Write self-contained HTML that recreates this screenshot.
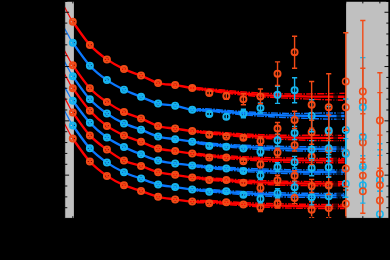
<!DOCTYPE html>
<html><head><meta charset="utf-8"><title>chart</title>
<style>html,body{margin:0;padding:0;background:#000;width:390px;height:260px;overflow:hidden;font-family:"Liberation Sans",sans-serif;}</style>
</head><body>
<svg width="390" height="260" viewBox="0 0 390 260" style="position:absolute;left:0;top:0">
<defs><clipPath id="c"><rect x="64.7" y="1.2" width="324.2" height="217.2"/></clipPath></defs>
<defs><clipPath id="cl"><rect x="64.7" y="1.2" width="8.1" height="217.2"/></clipPath><clipPath id="cr"><rect x="72.8" y="1.2" width="316.1" height="217.2"/></clipPath></defs>
<rect x="0" y="0" width="390" height="260" fill="#000"/>
<rect x="64.7" y="1.2" width="9.2" height="217.2" fill="#c0c0c0"/>
<rect x="346.1" y="1.2" width="42.8" height="217.2" fill="#c0c0c0"/>
<g clip-path="url(#c)">
<path d="M64.27 6.45 C64.98 7.78 67.11 11.89 68.53 14.43 C69.96 16.97 69.25 16.62 72.80 21.70 C76.35 26.78 84.17 38.62 89.86 44.90 C95.55 51.18 101.23 55.37 106.92 59.40 C112.61 63.43 118.29 66.40 123.98 69.10 C129.67 71.80 135.35 73.27 141.04 75.60 C146.73 77.93 152.41 81.52 158.10 83.10 C163.79 84.68 169.47 84.28 175.16 85.10 C180.85 85.92 186.53 87.20 192.22 88.00 C197.91 88.80 203.59 89.26 209.28 89.89 C214.97 90.51 220.65 91.17 226.34 91.77 C232.03 92.37 237.71 93.00 243.40 93.51 C249.09 94.02 254.77 94.45 260.46 94.81 C266.15 95.18 271.83 95.44 277.52 95.69 C283.21 95.93 288.89 96.12 294.58 96.27 C300.27 96.41 305.95 96.48 311.64 96.56 C317.33 96.63 323.21 96.68 328.70 96.70 C334.19 96.72 341.92 96.70 344.57 96.70" fill="none" stroke="#ff0000" stroke-width="1.2" clip-path="url(#cl)"/>
<path d="M64.27 6.45 C64.98 7.78 67.11 11.89 68.53 14.43 C69.96 16.97 69.25 16.62 72.80 21.70 C76.35 26.78 84.17 38.62 89.86 44.90 C95.55 51.18 101.23 55.37 106.92 59.40 C112.61 63.43 118.29 66.40 123.98 69.10 C129.67 71.80 135.35 73.27 141.04 75.60 C146.73 77.93 152.41 81.52 158.10 83.10 C163.79 84.68 169.47 84.28 175.16 85.10 C180.85 85.92 186.53 87.20 192.22 88.00 C197.91 88.80 203.59 89.26 209.28 89.89 C214.97 90.51 220.65 91.17 226.34 91.77 C232.03 92.37 237.71 93.00 243.40 93.51 C249.09 94.02 254.77 94.45 260.46 94.81 C266.15 95.18 271.83 95.44 277.52 95.69 C283.21 95.93 288.89 96.12 294.58 96.27 C300.27 96.41 305.95 96.48 311.64 96.56 C317.33 96.63 323.21 96.68 328.70 96.70 C334.19 96.72 341.92 96.70 344.57 96.70" fill="none" stroke="#ff0000" stroke-width="2.35" clip-path="url(#cr)"/>
<path d="M196.48 87.42 C198.62 87.63 204.30 88.19 209.28 88.69 C214.26 89.18 220.65 89.83 226.34 90.37 C232.03 90.91 237.71 91.47 243.40 91.91 C249.09 92.35 254.77 92.72 260.46 93.02 C266.15 93.31 271.83 93.51 277.52 93.69 C283.21 93.86 288.89 94.03 294.58 94.06 C300.27 94.10 305.95 93.98 311.64 93.91 C317.33 93.83 323.21 93.72 328.70 93.60 C334.19 93.48 341.92 93.27 344.57 93.20" fill="none" stroke="#ff0000" stroke-width="1.4" stroke-dasharray="7 1.2 1.6 1.2" stroke-dashoffset="0.0"/>
<path d="M196.48 89.52 C198.62 89.78 204.30 90.48 209.28 91.09 C214.26 91.69 220.65 92.50 226.34 93.17 C232.03 93.84 237.71 94.54 243.40 95.11 C249.09 95.68 254.77 96.19 260.46 96.61 C266.15 97.04 271.83 97.38 277.52 97.69 C283.21 97.99 288.89 98.21 294.58 98.47 C300.27 98.72 305.95 98.98 311.64 99.21 C317.33 99.43 323.21 99.63 328.70 99.80 C334.19 99.97 341.92 100.17 344.57 100.25" fill="none" stroke="#ff0000" stroke-width="1.4" stroke-dasharray="7 1.2 1.6 1.2" stroke-dashoffset="3.0"/>
<path d="M64.27 27.70 C64.98 29.01 67.11 33.08 68.53 35.60 C69.96 38.12 69.25 37.78 72.80 42.80 C76.35 47.82 84.17 59.48 89.86 65.70 C95.55 71.92 101.23 76.10 106.92 80.10 C112.61 84.10 118.29 86.92 123.98 89.70 C129.67 92.48 135.35 94.48 141.04 96.80 C146.73 99.12 152.41 102.12 158.10 103.60 C163.79 105.08 169.47 104.67 175.16 105.70 C180.85 106.73 186.53 109.06 192.22 109.80 C197.91 110.54 203.59 109.80 209.28 110.12 C214.97 110.45 220.65 111.23 226.34 111.75 C232.03 112.27 237.71 112.81 243.40 113.25 C249.09 113.69 254.77 114.06 260.46 114.38 C266.15 114.69 271.83 114.92 277.52 115.12 C283.21 115.33 288.89 115.50 294.58 115.62 C300.27 115.75 305.95 115.81 311.64 115.88 C317.33 115.94 323.21 115.98 328.70 116.00 C334.19 116.02 341.92 116.00 344.57 116.00" fill="none" stroke="#0a78ff" stroke-width="1.2" clip-path="url(#cl)"/>
<path d="M64.27 27.70 C64.98 29.01 67.11 33.08 68.53 35.60 C69.96 38.12 69.25 37.78 72.80 42.80 C76.35 47.82 84.17 59.48 89.86 65.70 C95.55 71.92 101.23 76.10 106.92 80.10 C112.61 84.10 118.29 86.92 123.98 89.70 C129.67 92.48 135.35 94.48 141.04 96.80 C146.73 99.12 152.41 102.12 158.10 103.60 C163.79 105.08 169.47 104.67 175.16 105.70 C180.85 106.73 186.53 109.06 192.22 109.80 C197.91 110.54 203.59 109.80 209.28 110.12 C214.97 110.45 220.65 111.23 226.34 111.75 C232.03 112.27 237.71 112.81 243.40 113.25 C249.09 113.69 254.77 114.06 260.46 114.38 C266.15 114.69 271.83 114.92 277.52 115.12 C283.21 115.33 288.89 115.50 294.58 115.62 C300.27 115.75 305.95 115.81 311.64 115.88 C317.33 115.94 323.21 115.98 328.70 116.00 C334.19 116.02 341.92 116.00 344.57 116.00" fill="none" stroke="#0a78ff" stroke-width="2.35" clip-path="url(#cr)"/>
<path d="M196.48 108.83 C198.62 108.85 204.30 108.67 209.28 108.92 C214.26 109.18 220.65 109.90 226.34 110.35 C232.03 110.80 237.71 111.28 243.40 111.65 C249.09 112.02 254.77 112.33 260.46 112.58 C266.15 112.82 271.83 112.98 277.52 113.12 C283.21 113.27 288.89 113.41 294.58 113.42 C300.27 113.44 305.95 113.30 311.64 113.22 C317.33 113.15 323.21 113.00 328.70 112.95 C334.19 112.90 341.92 112.95 344.57 112.95" fill="none" stroke="#0a78ff" stroke-width="1.4" stroke-dasharray="7 1.2 1.6 1.2" stroke-dashoffset="2.3"/>
<path d="M196.48 110.93 C198.62 111.00 204.30 110.96 209.28 111.33 C214.26 111.69 220.65 112.56 226.34 113.15 C232.03 113.74 237.71 114.35 243.40 114.85 C249.09 115.35 254.77 115.80 260.46 116.17 C266.15 116.55 271.83 116.85 277.52 117.12 C283.21 117.40 288.89 117.59 294.58 117.83 C300.27 118.06 305.95 118.31 311.64 118.53 C317.33 118.74 323.21 118.99 328.70 119.10 C334.19 119.21 341.92 119.18 344.57 119.20" fill="none" stroke="#0a78ff" stroke-width="1.4" stroke-dasharray="7 1.2 1.6 1.2" stroke-dashoffset="5.3"/>
<path d="M64.27 50.15 C64.98 51.48 67.11 55.56 68.53 58.09 C69.96 60.61 69.25 60.28 72.80 65.30 C76.35 70.32 84.17 82.07 89.86 88.20 C95.55 94.33 101.23 98.12 106.92 102.10 C112.61 106.08 118.29 109.38 123.98 112.10 C129.67 114.82 135.35 116.07 141.04 118.40 C146.73 120.73 152.41 124.40 158.10 126.10 C163.79 127.80 169.47 127.77 175.16 128.60 C180.85 129.43 186.53 130.41 192.22 131.10 C197.91 131.79 203.59 132.22 209.28 132.73 C214.97 133.24 220.65 133.70 226.34 134.16 C232.03 134.62 237.71 135.10 243.40 135.48 C249.09 135.87 254.77 136.19 260.46 136.47 C266.15 136.75 271.83 136.95 277.52 137.13 C283.21 137.31 288.89 137.46 294.58 137.57 C300.27 137.68 305.95 137.73 311.64 137.79 C317.33 137.84 323.21 137.88 328.70 137.90 C334.19 137.92 341.92 137.90 344.57 137.90" fill="none" stroke="#ff0000" stroke-width="1.2" clip-path="url(#cl)"/>
<path d="M64.27 50.15 C64.98 51.48 67.11 55.56 68.53 58.09 C69.96 60.61 69.25 60.28 72.80 65.30 C76.35 70.32 84.17 82.07 89.86 88.20 C95.55 94.33 101.23 98.12 106.92 102.10 C112.61 106.08 118.29 109.38 123.98 112.10 C129.67 114.82 135.35 116.07 141.04 118.40 C146.73 120.73 152.41 124.40 158.10 126.10 C163.79 127.80 169.47 127.77 175.16 128.60 C180.85 129.43 186.53 130.41 192.22 131.10 C197.91 131.79 203.59 132.22 209.28 132.73 C214.97 133.24 220.65 133.70 226.34 134.16 C232.03 134.62 237.71 135.10 243.40 135.48 C249.09 135.87 254.77 136.19 260.46 136.47 C266.15 136.75 271.83 136.95 277.52 137.13 C283.21 137.31 288.89 137.46 294.58 137.57 C300.27 137.68 305.95 137.73 311.64 137.79 C317.33 137.84 323.21 137.88 328.70 137.90 C334.19 137.92 341.92 137.90 344.57 137.90" fill="none" stroke="#ff0000" stroke-width="2.35" clip-path="url(#cr)"/>
<path d="M196.48 130.46 C198.62 130.64 204.30 131.15 209.28 131.53 C214.26 131.91 220.65 132.37 226.34 132.76 C232.03 133.15 237.71 133.56 243.40 133.88 C249.09 134.20 254.77 134.46 260.46 134.67 C266.15 134.88 271.83 135.01 277.52 135.13 C283.21 135.25 288.89 135.35 294.58 135.37 C300.27 135.39 305.95 135.24 311.64 135.24 C317.33 135.24 323.21 135.33 328.70 135.35 C334.19 135.37 341.92 135.35 344.57 135.35" fill="none" stroke="#ff0000" stroke-width="1.4" stroke-dasharray="7 1.2 1.6 1.2" stroke-dashoffset="4.6"/>
<path d="M196.48 132.56 C198.62 132.79 204.30 133.43 209.28 133.93 C214.26 134.43 220.65 135.03 226.34 135.56 C232.03 136.09 237.71 136.63 243.40 137.08 C249.09 137.53 254.77 137.93 260.46 138.27 C266.15 138.61 271.83 138.88 277.52 139.13 C283.21 139.38 288.89 139.55 294.58 139.77 C300.27 139.99 305.95 140.30 311.64 140.44 C317.33 140.58 323.21 140.57 328.70 140.60 C334.19 140.63 341.92 140.60 344.57 140.60" fill="none" stroke="#ff0000" stroke-width="1.4" stroke-dasharray="7 1.2 1.6 1.2" stroke-dashoffset="7.6"/>
<path d="M64.27 61.07 C64.98 62.40 67.11 66.51 68.53 69.05 C69.96 71.59 69.25 71.26 72.80 76.30 C76.35 81.34 84.17 93.08 89.86 99.30 C95.55 105.52 101.23 109.58 106.92 113.60 C112.61 117.62 118.29 120.72 123.98 123.40 C129.67 126.08 135.35 127.50 141.04 129.70 C146.73 131.90 152.41 135.02 158.10 136.60 C163.79 138.18 169.47 138.35 175.16 139.20 C180.85 140.05 186.53 140.85 192.22 141.70 C197.91 142.55 203.59 143.65 209.28 144.30 C214.97 144.95 220.65 145.18 226.34 145.60 C232.03 146.02 237.71 146.45 243.40 146.80 C249.09 147.15 254.77 147.45 260.46 147.70 C266.15 147.95 271.83 148.13 277.52 148.30 C283.21 148.47 288.89 148.60 294.58 148.70 C300.27 148.80 305.95 148.85 311.64 148.90 C317.33 148.95 323.21 148.98 328.70 149.00 C334.19 149.02 341.92 149.00 344.57 149.00" fill="none" stroke="#0a78ff" stroke-width="1.2" clip-path="url(#cl)"/>
<path d="M64.27 61.07 C64.98 62.40 67.11 66.51 68.53 69.05 C69.96 71.59 69.25 71.26 72.80 76.30 C76.35 81.34 84.17 93.08 89.86 99.30 C95.55 105.52 101.23 109.58 106.92 113.60 C112.61 117.62 118.29 120.72 123.98 123.40 C129.67 126.08 135.35 127.50 141.04 129.70 C146.73 131.90 152.41 135.02 158.10 136.60 C163.79 138.18 169.47 138.35 175.16 139.20 C180.85 140.05 186.53 140.85 192.22 141.70 C197.91 142.55 203.59 143.65 209.28 144.30 C214.97 144.95 220.65 145.18 226.34 145.60 C232.03 146.02 237.71 146.45 243.40 146.80 C249.09 147.15 254.77 147.45 260.46 147.70 C266.15 147.95 271.83 148.13 277.52 148.30 C283.21 148.47 288.89 148.60 294.58 148.70 C300.27 148.80 305.95 148.85 311.64 148.90 C317.33 148.95 323.21 148.98 328.70 149.00 C334.19 149.02 341.92 149.00 344.57 149.00" fill="none" stroke="#0a78ff" stroke-width="2.35" clip-path="url(#cr)"/>
<path d="M196.48 141.30 C198.62 141.60 204.30 142.62 209.28 143.10 C214.26 143.58 220.65 143.85 226.34 144.20 C232.03 144.55 237.71 144.92 243.40 145.20 C249.09 145.48 254.77 145.72 260.46 145.90 C266.15 146.08 271.83 146.18 277.52 146.30 C283.21 146.43 288.89 146.56 294.58 146.65 C300.27 146.74 305.95 146.80 311.64 146.85 C317.33 146.90 323.21 146.93 328.70 146.95 C334.19 146.97 341.92 146.95 344.57 146.95" fill="none" stroke="#0a78ff" stroke-width="1.4" stroke-dasharray="7 1.2 1.6 1.2" stroke-dashoffset="6.9"/>
<path d="M196.48 143.40 C198.62 143.75 204.30 144.90 209.28 145.50 C214.26 146.10 220.65 146.52 226.34 147.00 C232.03 147.48 237.71 147.98 243.40 148.40 C249.09 148.82 254.77 149.18 260.46 149.50 C266.15 149.82 271.83 150.07 277.52 150.30 C283.21 150.53 288.89 150.77 294.58 150.90 C300.27 151.03 305.95 151.05 311.64 151.10 C317.33 151.15 323.21 151.18 328.70 151.20 C334.19 151.22 341.92 151.20 344.57 151.20" fill="none" stroke="#0a78ff" stroke-width="1.4" stroke-dasharray="7 1.2 1.6 1.2" stroke-dashoffset="9.9"/>
<path d="M64.27 73.39 C64.98 74.68 67.11 78.67 68.53 81.14 C69.96 83.61 69.25 83.27 72.80 88.20 C76.35 93.13 84.17 104.42 89.86 110.70 C95.55 116.98 101.23 121.78 106.92 125.90 C112.61 130.02 118.29 132.75 123.98 135.40 C129.67 138.05 135.35 139.62 141.04 141.80 C146.73 143.98 152.41 146.95 158.10 148.50 C163.79 150.05 169.47 150.25 175.16 151.10 C180.85 151.95 186.53 152.82 192.22 153.60 C197.91 154.38 203.59 155.22 209.28 155.80 C214.97 156.38 220.65 156.68 226.34 157.10 C232.03 157.52 237.71 157.95 243.40 158.30 C249.09 158.65 254.77 158.95 260.46 159.20 C266.15 159.45 271.83 159.63 277.52 159.80 C283.21 159.97 288.89 160.10 294.58 160.20 C300.27 160.30 305.95 160.35 311.64 160.40 C317.33 160.45 323.21 160.48 328.70 160.50 C334.19 160.52 341.92 160.50 344.57 160.50" fill="none" stroke="#ff0000" stroke-width="1.2" clip-path="url(#cl)"/>
<path d="M64.27 73.39 C64.98 74.68 67.11 78.67 68.53 81.14 C69.96 83.61 69.25 83.27 72.80 88.20 C76.35 93.13 84.17 104.42 89.86 110.70 C95.55 116.98 101.23 121.78 106.92 125.90 C112.61 130.02 118.29 132.75 123.98 135.40 C129.67 138.05 135.35 139.62 141.04 141.80 C146.73 143.98 152.41 146.95 158.10 148.50 C163.79 150.05 169.47 150.25 175.16 151.10 C180.85 151.95 186.53 152.82 192.22 153.60 C197.91 154.38 203.59 155.22 209.28 155.80 C214.97 156.38 220.65 156.68 226.34 157.10 C232.03 157.52 237.71 157.95 243.40 158.30 C249.09 158.65 254.77 158.95 260.46 159.20 C266.15 159.45 271.83 159.63 277.52 159.80 C283.21 159.97 288.89 160.10 294.58 160.20 C300.27 160.30 305.95 160.35 311.64 160.40 C317.33 160.45 323.21 160.48 328.70 160.50 C334.19 160.52 341.92 160.50 344.57 160.50" fill="none" stroke="#ff0000" stroke-width="2.35" clip-path="url(#cr)"/>
<path d="M196.48 153.10 C198.62 153.35 204.30 154.17 209.28 154.60 C214.26 155.03 220.65 155.35 226.34 155.70 C232.03 156.05 237.71 156.42 243.40 156.70 C249.09 156.98 254.77 157.22 260.46 157.40 C266.15 157.58 271.83 157.68 277.52 157.80 C283.21 157.93 288.89 158.06 294.58 158.15 C300.27 158.24 305.95 158.30 311.64 158.35 C317.33 158.40 323.21 158.43 328.70 158.45 C334.19 158.47 341.92 158.45 344.57 158.45" fill="none" stroke="#ff0000" stroke-width="1.4" stroke-dasharray="7 1.2 1.6 1.2" stroke-dashoffset="9.2"/>
<path d="M196.48 155.20 C198.62 155.50 204.30 156.45 209.28 157.00 C214.26 157.55 220.65 158.02 226.34 158.50 C232.03 158.98 237.71 159.48 243.40 159.90 C249.09 160.32 254.77 160.68 260.46 161.00 C266.15 161.32 271.83 161.57 277.52 161.80 C283.21 162.03 288.89 162.27 294.58 162.40 C300.27 162.53 305.95 162.55 311.64 162.60 C317.33 162.65 323.21 162.68 328.70 162.70 C334.19 162.72 341.92 162.70 344.57 162.70" fill="none" stroke="#ff0000" stroke-width="1.4" stroke-dasharray="7 1.2 1.6 1.2" stroke-dashoffset="12.2"/>
<path d="M64.27 86.43 C64.98 87.69 67.11 91.55 68.53 93.95 C69.96 96.34 69.25 96.01 72.80 100.80 C76.35 105.59 84.17 116.58 89.86 122.70 C95.55 128.82 101.23 133.43 106.92 137.50 C112.61 141.57 118.29 144.30 123.98 147.10 C129.67 149.90 135.35 152.05 141.04 154.30 C146.73 156.55 152.41 159.08 158.10 160.60 C163.79 162.12 169.47 162.58 175.16 163.40 C180.85 164.22 186.53 164.85 192.22 165.50 C197.91 166.15 203.59 166.78 209.28 167.30 C214.97 167.82 220.65 168.18 226.34 168.60 C232.03 169.02 237.71 169.45 243.40 169.80 C249.09 170.15 254.77 170.45 260.46 170.70 C266.15 170.95 271.83 171.13 277.52 171.30 C283.21 171.47 288.89 171.60 294.58 171.70 C300.27 171.80 305.95 171.85 311.64 171.90 C317.33 171.95 323.21 171.98 328.70 172.00 C334.19 172.02 341.92 172.00 344.57 172.00" fill="none" stroke="#0a78ff" stroke-width="1.2" clip-path="url(#cl)"/>
<path d="M64.27 86.43 C64.98 87.69 67.11 91.55 68.53 93.95 C69.96 96.34 69.25 96.01 72.80 100.80 C76.35 105.59 84.17 116.58 89.86 122.70 C95.55 128.82 101.23 133.43 106.92 137.50 C112.61 141.57 118.29 144.30 123.98 147.10 C129.67 149.90 135.35 152.05 141.04 154.30 C146.73 156.55 152.41 159.08 158.10 160.60 C163.79 162.12 169.47 162.58 175.16 163.40 C180.85 164.22 186.53 164.85 192.22 165.50 C197.91 166.15 203.59 166.78 209.28 167.30 C214.97 167.82 220.65 168.18 226.34 168.60 C232.03 169.02 237.71 169.45 243.40 169.80 C249.09 170.15 254.77 170.45 260.46 170.70 C266.15 170.95 271.83 171.13 277.52 171.30 C283.21 171.47 288.89 171.60 294.58 171.70 C300.27 171.80 305.95 171.85 311.64 171.90 C317.33 171.95 323.21 171.98 328.70 172.00 C334.19 172.02 341.92 172.00 344.57 172.00" fill="none" stroke="#0a78ff" stroke-width="2.35" clip-path="url(#cr)"/>
<path d="M196.48 164.90 C198.62 165.10 204.30 165.72 209.28 166.10 C214.26 166.48 220.65 166.85 226.34 167.20 C232.03 167.55 237.71 167.92 243.40 168.20 C249.09 168.48 254.77 168.71 260.46 168.90 C266.15 169.09 271.83 169.21 277.52 169.35 C283.21 169.49 288.89 169.65 294.58 169.75 C300.27 169.85 305.95 169.90 311.64 169.95 C317.33 170.00 323.21 170.03 328.70 170.05 C334.19 170.07 341.92 170.05 344.57 170.05" fill="none" stroke="#0a78ff" stroke-width="1.4" stroke-dasharray="7 1.2 1.6 1.2" stroke-dashoffset="11.5"/>
<path d="M196.48 167.00 C198.62 167.25 204.30 168.00 209.28 168.50 C214.26 169.00 220.65 169.52 226.34 170.00 C232.03 170.48 237.71 170.98 243.40 171.40 C249.09 171.82 254.77 172.18 260.46 172.50 C266.15 172.82 271.83 173.08 277.52 173.30 C283.21 173.52 288.89 173.68 294.58 173.80 C300.27 173.92 305.95 173.95 311.64 174.00 C317.33 174.05 323.21 174.08 328.70 174.10 C334.19 174.12 341.92 174.10 344.57 174.10" fill="none" stroke="#0a78ff" stroke-width="1.4" stroke-dasharray="7 1.2 1.6 1.2" stroke-dashoffset="14.5"/>
<path d="M64.27 97.07 C64.98 98.41 67.11 102.55 68.53 105.11 C69.96 107.66 69.25 107.35 72.80 112.40 C76.35 117.45 84.17 129.20 89.86 135.40 C95.55 141.60 101.23 145.40 106.92 149.60 C112.61 153.80 118.29 157.88 123.98 160.60 C129.67 163.32 135.35 163.97 141.04 165.90 C146.73 167.83 152.41 170.72 158.10 172.20 C163.79 173.68 169.47 173.92 175.16 174.80 C180.85 175.68 186.53 176.80 192.22 177.50 C197.91 178.20 203.59 178.53 209.28 179.00 C214.97 179.47 220.65 179.88 226.34 180.30 C232.03 180.72 237.71 181.15 243.40 181.50 C249.09 181.85 254.77 182.15 260.46 182.40 C266.15 182.65 271.83 182.83 277.52 183.00 C283.21 183.17 288.89 183.30 294.58 183.40 C300.27 183.50 305.95 183.55 311.64 183.60 C317.33 183.65 323.21 183.68 328.70 183.70 C334.19 183.72 341.92 183.70 344.57 183.70" fill="none" stroke="#ff0000" stroke-width="1.2" clip-path="url(#cl)"/>
<path d="M64.27 97.07 C64.98 98.41 67.11 102.55 68.53 105.11 C69.96 107.66 69.25 107.35 72.80 112.40 C76.35 117.45 84.17 129.20 89.86 135.40 C95.55 141.60 101.23 145.40 106.92 149.60 C112.61 153.80 118.29 157.88 123.98 160.60 C129.67 163.32 135.35 163.97 141.04 165.90 C146.73 167.83 152.41 170.72 158.10 172.20 C163.79 173.68 169.47 173.92 175.16 174.80 C180.85 175.68 186.53 176.80 192.22 177.50 C197.91 178.20 203.59 178.53 209.28 179.00 C214.97 179.47 220.65 179.88 226.34 180.30 C232.03 180.72 237.71 181.15 243.40 181.50 C249.09 181.85 254.77 182.15 260.46 182.40 C266.15 182.65 271.83 182.83 277.52 183.00 C283.21 183.17 288.89 183.30 294.58 183.40 C300.27 183.50 305.95 183.55 311.64 183.60 C317.33 183.65 323.21 183.68 328.70 183.70 C334.19 183.72 341.92 183.70 344.57 183.70" fill="none" stroke="#ff0000" stroke-width="2.35" clip-path="url(#cr)"/>
<path d="M196.48 176.82 C198.62 176.99 204.30 177.45 209.28 177.80 C214.26 178.15 220.65 178.55 226.34 178.90 C232.03 179.25 237.71 179.62 243.40 179.90 C249.09 180.18 254.77 180.41 260.46 180.60 C266.15 180.79 271.83 180.91 277.52 181.05 C283.21 181.19 288.89 181.35 294.58 181.45 C300.27 181.55 305.95 181.60 311.64 181.65 C317.33 181.70 323.21 181.73 328.70 181.75 C334.19 181.77 341.92 181.75 344.57 181.75" fill="none" stroke="#ff0000" stroke-width="1.4" stroke-dasharray="7 1.2 1.6 1.2" stroke-dashoffset="13.8"/>
<path d="M196.48 178.93 C198.62 179.14 204.30 179.74 209.28 180.20 C214.26 180.66 220.65 181.22 226.34 181.70 C232.03 182.18 237.71 182.68 243.40 183.10 C249.09 183.52 254.77 183.88 260.46 184.20 C266.15 184.52 271.83 184.78 277.52 185.00 C283.21 185.22 288.89 185.38 294.58 185.50 C300.27 185.62 305.95 185.65 311.64 185.70 C317.33 185.75 323.21 185.78 328.70 185.80 C334.19 185.82 341.92 185.80 344.57 185.80" fill="none" stroke="#ff0000" stroke-width="1.4" stroke-dasharray="7 1.2 1.6 1.2" stroke-dashoffset="16.8"/>
<path d="M64.27 110.06 C64.98 111.40 67.11 115.55 68.53 118.11 C69.96 120.67 69.25 120.37 72.80 125.40 C76.35 130.43 84.17 142.10 89.86 148.30 C95.55 154.50 101.23 158.62 106.92 162.60 C112.61 166.58 118.29 169.53 123.98 172.20 C129.67 174.87 135.35 176.55 141.04 178.60 C146.73 180.65 152.41 183.08 158.10 184.50 C163.79 185.92 169.47 186.25 175.16 187.10 C180.85 187.95 186.53 189.00 192.22 189.60 C197.91 190.20 203.59 190.30 209.28 190.70 C214.97 191.10 220.65 191.58 226.34 192.00 C232.03 192.42 237.71 192.85 243.40 193.20 C249.09 193.55 254.77 193.85 260.46 194.10 C266.15 194.35 271.83 194.53 277.52 194.70 C283.21 194.87 288.89 195.00 294.58 195.10 C300.27 195.20 305.95 195.25 311.64 195.30 C317.33 195.35 323.21 195.38 328.70 195.40 C334.19 195.42 341.92 195.40 344.57 195.40" fill="none" stroke="#0a78ff" stroke-width="1.2" clip-path="url(#cl)"/>
<path d="M64.27 110.06 C64.98 111.40 67.11 115.55 68.53 118.11 C69.96 120.67 69.25 120.37 72.80 125.40 C76.35 130.43 84.17 142.10 89.86 148.30 C95.55 154.50 101.23 158.62 106.92 162.60 C112.61 166.58 118.29 169.53 123.98 172.20 C129.67 174.87 135.35 176.55 141.04 178.60 C146.73 180.65 152.41 183.08 158.10 184.50 C163.79 185.92 169.47 186.25 175.16 187.10 C180.85 187.95 186.53 189.00 192.22 189.60 C197.91 190.20 203.59 190.30 209.28 190.70 C214.97 191.10 220.65 191.58 226.34 192.00 C232.03 192.42 237.71 192.85 243.40 193.20 C249.09 193.55 254.77 193.85 260.46 194.10 C266.15 194.35 271.83 194.53 277.52 194.70 C283.21 194.87 288.89 195.00 294.58 195.10 C300.27 195.20 305.95 195.25 311.64 195.30 C317.33 195.35 323.21 195.38 328.70 195.40 C334.19 195.42 341.92 195.40 344.57 195.40" fill="none" stroke="#0a78ff" stroke-width="2.35" clip-path="url(#cr)"/>
<path d="M196.48 188.82 C198.62 188.94 204.30 189.20 209.28 189.50 C214.26 189.80 220.65 190.25 226.34 190.60 C232.03 190.95 237.71 191.32 243.40 191.60 C249.09 191.88 254.77 192.11 260.46 192.30 C266.15 192.49 271.83 192.61 277.52 192.75 C283.21 192.89 288.89 193.05 294.58 193.15 C300.27 193.25 305.95 193.30 311.64 193.35 C317.33 193.40 323.21 193.43 328.70 193.45 C334.19 193.47 341.92 193.45 344.57 193.45" fill="none" stroke="#0a78ff" stroke-width="1.4" stroke-dasharray="7 1.2 1.6 1.2" stroke-dashoffset="16.1"/>
<path d="M196.48 190.92 C198.62 191.09 204.30 191.49 209.28 191.90 C214.26 192.31 220.65 192.92 226.34 193.40 C232.03 193.88 237.71 194.38 243.40 194.80 C249.09 195.22 254.77 195.58 260.46 195.90 C266.15 196.22 271.83 196.48 277.52 196.70 C283.21 196.92 288.89 197.08 294.58 197.20 C300.27 197.32 305.95 197.35 311.64 197.40 C317.33 197.45 323.21 197.48 328.70 197.50 C334.19 197.52 341.92 197.50 344.57 197.50" fill="none" stroke="#0a78ff" stroke-width="1.4" stroke-dasharray="7 1.2 1.6 1.2" stroke-dashoffset="19.1"/>
<path d="M64.27 123.09 C64.98 124.44 67.11 128.66 68.53 131.24 C69.96 133.83 69.25 133.56 72.80 138.60 C76.35 143.64 84.17 155.28 89.86 161.50 C95.55 167.72 101.23 171.95 106.92 175.90 C112.61 179.85 118.29 182.70 123.98 185.20 C129.67 187.70 135.35 188.97 141.04 190.90 C146.73 192.83 152.41 195.38 158.10 196.80 C163.79 198.22 169.47 198.60 175.16 199.40 C180.85 200.20 186.53 201.22 192.22 201.60 C197.91 201.98 203.59 201.47 209.28 201.70 C214.97 201.93 220.65 202.58 226.34 203.00 C232.03 203.42 237.71 203.85 243.40 204.20 C249.09 204.55 254.77 204.85 260.46 205.10 C266.15 205.35 271.83 205.53 277.52 205.70 C283.21 205.87 288.89 206.00 294.58 206.10 C300.27 206.20 305.95 206.25 311.64 206.30 C317.33 206.35 323.21 206.38 328.70 206.40 C334.19 206.42 341.92 206.40 344.57 206.40" fill="none" stroke="#ff0000" stroke-width="1.2" clip-path="url(#cl)"/>
<path d="M64.27 123.09 C64.98 124.44 67.11 128.66 68.53 131.24 C69.96 133.83 69.25 133.56 72.80 138.60 C76.35 143.64 84.17 155.28 89.86 161.50 C95.55 167.72 101.23 171.95 106.92 175.90 C112.61 179.85 118.29 182.70 123.98 185.20 C129.67 187.70 135.35 188.97 141.04 190.90 C146.73 192.83 152.41 195.38 158.10 196.80 C163.79 198.22 169.47 198.60 175.16 199.40 C180.85 200.20 186.53 201.22 192.22 201.60 C197.91 201.98 203.59 201.47 209.28 201.70 C214.97 201.93 220.65 202.58 226.34 203.00 C232.03 203.42 237.71 203.85 243.40 204.20 C249.09 204.55 254.77 204.85 260.46 205.10 C266.15 205.35 271.83 205.53 277.52 205.70 C283.21 205.87 288.89 206.00 294.58 206.10 C300.27 206.20 305.95 206.25 311.64 206.30 C317.33 206.35 323.21 206.38 328.70 206.40 C334.19 206.42 341.92 206.40 344.57 206.40" fill="none" stroke="#ff0000" stroke-width="2.35" clip-path="url(#cr)"/>
<path d="M196.48 200.57 C198.62 200.56 204.30 200.33 209.28 200.50 C214.26 200.67 220.65 201.25 226.34 201.60 C232.03 201.95 237.71 202.32 243.40 202.60 C249.09 202.88 254.77 203.11 260.46 203.30 C266.15 203.49 271.83 203.61 277.52 203.75 C283.21 203.89 288.89 204.05 294.58 204.15 C300.27 204.25 305.95 204.30 311.64 204.35 C317.33 204.40 323.21 204.43 328.70 204.45 C334.19 204.47 341.92 204.45 344.57 204.45" fill="none" stroke="#ff0000" stroke-width="1.4" stroke-dasharray="7 1.2 1.6 1.2" stroke-dashoffset="18.4"/>
<path d="M196.48 202.67 C198.62 202.71 204.30 202.61 209.28 202.90 C214.26 203.19 220.65 203.92 226.34 204.40 C232.03 204.88 237.71 205.38 243.40 205.80 C249.09 206.22 254.77 206.58 260.46 206.90 C266.15 207.22 271.83 207.48 277.52 207.70 C283.21 207.92 288.89 208.08 294.58 208.20 C300.27 208.32 305.95 208.35 311.64 208.40 C317.33 208.45 323.21 208.48 328.70 208.50 C334.19 208.52 341.92 208.50 344.57 208.50" fill="none" stroke="#ff0000" stroke-width="1.4" stroke-dasharray="7 1.2 1.6 1.2" stroke-dashoffset="21.4"/>
<rect x="333.3" y="91.9" width="4.7" height="9.8" fill="#000" fill-opacity="0.7"/>
<rect x="336.5" y="111.9" width="4.7" height="8.4" fill="#000" fill-opacity="0.7"/>
<rect x="333.3" y="134.3" width="4.7" height="7.4" fill="#000" fill-opacity="0.7"/>
<rect x="336.5" y="145.9" width="4.7" height="6.4" fill="#000" fill-opacity="0.7"/>
<rect x="333.3" y="157.4" width="4.7" height="6.4" fill="#000" fill-opacity="0.7"/>
<rect x="336.5" y="169.0" width="4.7" height="6.2" fill="#000" fill-opacity="0.7"/>
<rect x="333.3" y="180.7" width="4.7" height="6.2" fill="#000" fill-opacity="0.7"/>
<rect x="336.5" y="192.4" width="4.7" height="6.2" fill="#000" fill-opacity="0.7"/>
<rect x="333.3" y="203.4" width="4.7" height="6.2" fill="#000" fill-opacity="0.7"/>
</g>
<g clip-path="url(#c)">
<path d="M72.80 137.35V139.85M70.20 137.35h5.2M70.20 139.85h5.2" stroke="#f24a16" stroke-width="1.4" fill="none"/>
<circle cx="72.80" cy="138.60" r="3.05" fill="none" stroke="#f24a16" stroke-width="1.9"/>
<path d="M89.86 160.25V162.75M87.26 160.25h5.2M87.26 162.75h5.2" stroke="#f24a16" stroke-width="1.4" fill="none"/>
<circle cx="89.86" cy="161.50" r="3.05" fill="none" stroke="#f24a16" stroke-width="1.9"/>
<path d="M106.92 174.65V177.15M104.32 174.65h5.2M104.32 177.15h5.2" stroke="#f24a16" stroke-width="1.4" fill="none"/>
<circle cx="106.92" cy="175.90" r="3.05" fill="none" stroke="#f24a16" stroke-width="1.9"/>
<path d="M123.98 183.95V186.45M121.38 183.95h5.2M121.38 186.45h5.2" stroke="#f24a16" stroke-width="1.4" fill="none"/>
<circle cx="123.98" cy="185.20" r="3.05" fill="none" stroke="#f24a16" stroke-width="1.9"/>
<path d="M141.04 189.65V192.15M138.44 189.65h5.2M138.44 192.15h5.2" stroke="#f24a16" stroke-width="1.4" fill="none"/>
<circle cx="141.04" cy="190.90" r="3.05" fill="none" stroke="#f24a16" stroke-width="1.9"/>
<path d="M158.10 195.55V198.05M155.50 195.55h5.2M155.50 198.05h5.2" stroke="#f24a16" stroke-width="1.4" fill="none"/>
<circle cx="158.10" cy="196.80" r="3.05" fill="none" stroke="#f24a16" stroke-width="1.9"/>
<path d="M175.16 198.15V200.65M172.56 198.15h5.2M172.56 200.65h5.2" stroke="#f24a16" stroke-width="1.4" fill="none"/>
<circle cx="175.16" cy="199.40" r="3.05" fill="none" stroke="#f24a16" stroke-width="1.9"/>
<path d="M192.22 200.35V202.85M189.62 200.35h5.2M189.62 202.85h5.2" stroke="#f24a16" stroke-width="1.4" fill="none"/>
<circle cx="192.22" cy="201.60" r="3.05" fill="none" stroke="#f24a16" stroke-width="1.9"/>
<path d="M209.28 202.05V204.55M206.68 202.05h5.2M206.68 204.55h5.2" stroke="#f24a16" stroke-width="1.4" fill="none"/>
<circle cx="209.28" cy="203.30" r="3.05" fill="none" stroke="#f24a16" stroke-width="1.9"/>
<path d="M226.34 200.95V203.45M223.74 200.95h5.2M223.74 203.45h5.2" stroke="#f24a16" stroke-width="1.4" fill="none"/>
<circle cx="226.34" cy="202.20" r="3.05" fill="none" stroke="#f24a16" stroke-width="1.9"/>
<path d="M243.40 203.00V205.80M240.80 203.00h5.2M240.80 205.80h5.2" stroke="#f24a16" stroke-width="1.4" fill="none"/>
<circle cx="243.40" cy="204.40" r="3.05" fill="none" stroke="#f24a16" stroke-width="1.9"/>
<path d="M260.46 203.50V211.50M257.86 203.50h5.2M257.86 211.50h5.2" stroke="#f24a16" stroke-width="1.4" fill="none"/>
<circle cx="260.46" cy="207.50" r="3.05" fill="none" stroke="#f24a16" stroke-width="1.9"/>
<path d="M277.52 199.00V208.00M274.92 199.00h5.2M274.92 208.00h5.2" stroke="#f24a16" stroke-width="1.4" fill="none"/>
<circle cx="277.52" cy="203.50" r="3.05" fill="none" stroke="#f24a16" stroke-width="1.9"/>
<path d="M294.58 192.40V203.60M291.98 192.40h5.2M291.98 203.60h5.2" stroke="#f24a16" stroke-width="1.4" fill="none"/>
<circle cx="294.58" cy="198.00" r="3.05" fill="none" stroke="#f24a16" stroke-width="1.9"/>
<path d="M311.64 201.80V217.60M309.04 201.80h5.2M309.04 217.60h5.2" stroke="#f24a16" stroke-width="1.4" fill="none"/>
<circle cx="311.64" cy="209.70" r="3.05" fill="none" stroke="#f24a16" stroke-width="1.9"/>
<path d="M328.70 198.40V217.60M326.10 198.40h5.2M326.10 217.60h5.2" stroke="#f24a16" stroke-width="1.4" fill="none"/>
<circle cx="328.70" cy="208.00" r="3.05" fill="none" stroke="#f24a16" stroke-width="1.9"/>
<path d="M72.80 124.15V126.65M70.20 124.15h5.2M70.20 126.65h5.2" stroke="#16b4ee" stroke-width="1.4" fill="none"/>
<circle cx="72.80" cy="125.40" r="3.05" fill="none" stroke="#16b4ee" stroke-width="1.9"/>
<path d="M89.86 147.05V149.55M87.26 147.05h5.2M87.26 149.55h5.2" stroke="#16b4ee" stroke-width="1.4" fill="none"/>
<circle cx="89.86" cy="148.30" r="3.05" fill="none" stroke="#16b4ee" stroke-width="1.9"/>
<path d="M106.92 161.35V163.85M104.32 161.35h5.2M104.32 163.85h5.2" stroke="#16b4ee" stroke-width="1.4" fill="none"/>
<circle cx="106.92" cy="162.60" r="3.05" fill="none" stroke="#16b4ee" stroke-width="1.9"/>
<path d="M123.98 170.95V173.45M121.38 170.95h5.2M121.38 173.45h5.2" stroke="#16b4ee" stroke-width="1.4" fill="none"/>
<circle cx="123.98" cy="172.20" r="3.05" fill="none" stroke="#16b4ee" stroke-width="1.9"/>
<path d="M141.04 177.35V179.85M138.44 177.35h5.2M138.44 179.85h5.2" stroke="#16b4ee" stroke-width="1.4" fill="none"/>
<circle cx="141.04" cy="178.60" r="3.05" fill="none" stroke="#16b4ee" stroke-width="1.9"/>
<path d="M158.10 183.25V185.75M155.50 183.25h5.2M155.50 185.75h5.2" stroke="#16b4ee" stroke-width="1.4" fill="none"/>
<circle cx="158.10" cy="184.50" r="3.05" fill="none" stroke="#16b4ee" stroke-width="1.9"/>
<path d="M175.16 185.85V188.35M172.56 185.85h5.2M172.56 188.35h5.2" stroke="#16b4ee" stroke-width="1.4" fill="none"/>
<circle cx="175.16" cy="187.10" r="3.05" fill="none" stroke="#16b4ee" stroke-width="1.9"/>
<path d="M192.22 188.35V190.85M189.62 188.35h5.2M189.62 190.85h5.2" stroke="#16b4ee" stroke-width="1.4" fill="none"/>
<circle cx="192.22" cy="189.60" r="3.05" fill="none" stroke="#16b4ee" stroke-width="1.9"/>
<path d="M209.28 190.55V193.05M206.68 190.55h5.2M206.68 193.05h5.2" stroke="#16b4ee" stroke-width="1.4" fill="none"/>
<circle cx="209.28" cy="191.80" r="3.05" fill="none" stroke="#16b4ee" stroke-width="1.9"/>
<path d="M226.34 189.95V192.45M223.74 189.95h5.2M223.74 192.45h5.2" stroke="#16b4ee" stroke-width="1.4" fill="none"/>
<circle cx="226.34" cy="191.20" r="3.05" fill="none" stroke="#16b4ee" stroke-width="1.9"/>
<path d="M243.40 193.40V196.20M240.80 193.40h5.2M240.80 196.20h5.2" stroke="#16b4ee" stroke-width="1.4" fill="none"/>
<circle cx="243.40" cy="194.80" r="3.05" fill="none" stroke="#16b4ee" stroke-width="1.9"/>
<path d="M260.46 195.30V202.90M257.86 195.30h5.2M257.86 202.90h5.2" stroke="#16b4ee" stroke-width="1.4" fill="none"/>
<circle cx="260.46" cy="199.10" r="3.05" fill="none" stroke="#16b4ee" stroke-width="1.9"/>
<path d="M277.52 188.70V197.70M274.92 188.70h5.2M274.92 197.70h5.2" stroke="#16b4ee" stroke-width="1.4" fill="none"/>
<circle cx="277.52" cy="193.20" r="3.05" fill="none" stroke="#16b4ee" stroke-width="1.9"/>
<path d="M294.58 181.60V192.80M291.98 181.60h5.2M291.98 192.80h5.2" stroke="#16b4ee" stroke-width="1.4" fill="none"/>
<circle cx="294.58" cy="187.20" r="3.05" fill="none" stroke="#16b4ee" stroke-width="1.9"/>
<path d="M311.64 189.50V204.90M309.04 189.50h5.2M309.04 204.90h5.2" stroke="#16b4ee" stroke-width="1.4" fill="none"/>
<circle cx="311.64" cy="197.20" r="3.05" fill="none" stroke="#16b4ee" stroke-width="1.9"/>
<path d="M328.70 187.50V205.10M326.10 187.50h5.2M326.10 205.10h5.2" stroke="#16b4ee" stroke-width="1.4" fill="none"/>
<circle cx="328.70" cy="196.30" r="3.05" fill="none" stroke="#16b4ee" stroke-width="1.9"/>
<path d="M72.80 111.15V113.65M70.20 111.15h5.2M70.20 113.65h5.2" stroke="#f24a16" stroke-width="1.4" fill="none"/>
<circle cx="72.80" cy="112.40" r="3.05" fill="none" stroke="#f24a16" stroke-width="1.9"/>
<path d="M89.86 134.15V136.65M87.26 134.15h5.2M87.26 136.65h5.2" stroke="#f24a16" stroke-width="1.4" fill="none"/>
<circle cx="89.86" cy="135.40" r="3.05" fill="none" stroke="#f24a16" stroke-width="1.9"/>
<path d="M106.92 148.35V150.85M104.32 148.35h5.2M104.32 150.85h5.2" stroke="#f24a16" stroke-width="1.4" fill="none"/>
<circle cx="106.92" cy="149.60" r="3.05" fill="none" stroke="#f24a16" stroke-width="1.9"/>
<path d="M123.98 159.35V161.85M121.38 159.35h5.2M121.38 161.85h5.2" stroke="#f24a16" stroke-width="1.4" fill="none"/>
<circle cx="123.98" cy="160.60" r="3.05" fill="none" stroke="#f24a16" stroke-width="1.9"/>
<path d="M141.04 164.65V167.15M138.44 164.65h5.2M138.44 167.15h5.2" stroke="#f24a16" stroke-width="1.4" fill="none"/>
<circle cx="141.04" cy="165.90" r="3.05" fill="none" stroke="#f24a16" stroke-width="1.9"/>
<path d="M158.10 170.95V173.45M155.50 170.95h5.2M155.50 173.45h5.2" stroke="#f24a16" stroke-width="1.4" fill="none"/>
<circle cx="158.10" cy="172.20" r="3.05" fill="none" stroke="#f24a16" stroke-width="1.9"/>
<path d="M175.16 173.55V176.05M172.56 173.55h5.2M172.56 176.05h5.2" stroke="#f24a16" stroke-width="1.4" fill="none"/>
<circle cx="175.16" cy="174.80" r="3.05" fill="none" stroke="#f24a16" stroke-width="1.9"/>
<path d="M192.22 176.25V178.75M189.62 176.25h5.2M189.62 178.75h5.2" stroke="#f24a16" stroke-width="1.4" fill="none"/>
<circle cx="192.22" cy="177.50" r="3.05" fill="none" stroke="#f24a16" stroke-width="1.9"/>
<path d="M209.28 178.65V181.15M206.68 178.65h5.2M206.68 181.15h5.2" stroke="#f24a16" stroke-width="1.4" fill="none"/>
<circle cx="209.28" cy="179.90" r="3.05" fill="none" stroke="#f24a16" stroke-width="1.9"/>
<path d="M226.34 178.85V181.35M223.74 178.85h5.2M223.74 181.35h5.2" stroke="#f24a16" stroke-width="1.4" fill="none"/>
<circle cx="226.34" cy="180.10" r="3.05" fill="none" stroke="#f24a16" stroke-width="1.9"/>
<path d="M243.40 181.40V184.20M240.80 181.40h5.2M240.80 184.20h5.2" stroke="#f24a16" stroke-width="1.4" fill="none"/>
<circle cx="243.40" cy="182.80" r="3.05" fill="none" stroke="#f24a16" stroke-width="1.9"/>
<path d="M260.46 183.90V191.90M257.86 183.90h5.2M257.86 191.90h5.2" stroke="#f24a16" stroke-width="1.4" fill="none"/>
<circle cx="260.46" cy="187.90" r="3.05" fill="none" stroke="#f24a16" stroke-width="1.9"/>
<path d="M277.52 175.30V185.30M274.92 175.30h5.2M274.92 185.30h5.2" stroke="#f24a16" stroke-width="1.4" fill="none"/>
<circle cx="277.52" cy="180.30" r="3.05" fill="none" stroke="#f24a16" stroke-width="1.9"/>
<path d="M294.58 170.70V180.90M291.98 170.70h5.2M291.98 180.90h5.2" stroke="#f24a16" stroke-width="1.4" fill="none"/>
<circle cx="294.58" cy="175.80" r="3.05" fill="none" stroke="#f24a16" stroke-width="1.9"/>
<path d="M311.64 179.50V192.50M309.04 179.50h5.2M309.04 192.50h5.2" stroke="#f24a16" stroke-width="1.4" fill="none"/>
<circle cx="311.64" cy="186.00" r="3.05" fill="none" stroke="#f24a16" stroke-width="1.9"/>
<path d="M328.70 176.50V194.50M326.10 176.50h5.2M326.10 194.50h5.2" stroke="#f24a16" stroke-width="1.4" fill="none"/>
<circle cx="328.70" cy="185.50" r="3.05" fill="none" stroke="#f24a16" stroke-width="1.9"/>
<path d="M72.80 99.55V102.05M70.20 99.55h5.2M70.20 102.05h5.2" stroke="#16b4ee" stroke-width="1.4" fill="none"/>
<circle cx="72.80" cy="100.80" r="3.05" fill="none" stroke="#16b4ee" stroke-width="1.9"/>
<path d="M89.86 121.45V123.95M87.26 121.45h5.2M87.26 123.95h5.2" stroke="#16b4ee" stroke-width="1.4" fill="none"/>
<circle cx="89.86" cy="122.70" r="3.05" fill="none" stroke="#16b4ee" stroke-width="1.9"/>
<path d="M106.92 136.25V138.75M104.32 136.25h5.2M104.32 138.75h5.2" stroke="#16b4ee" stroke-width="1.4" fill="none"/>
<circle cx="106.92" cy="137.50" r="3.05" fill="none" stroke="#16b4ee" stroke-width="1.9"/>
<path d="M123.98 145.85V148.35M121.38 145.85h5.2M121.38 148.35h5.2" stroke="#16b4ee" stroke-width="1.4" fill="none"/>
<circle cx="123.98" cy="147.10" r="3.05" fill="none" stroke="#16b4ee" stroke-width="1.9"/>
<path d="M141.04 153.05V155.55M138.44 153.05h5.2M138.44 155.55h5.2" stroke="#16b4ee" stroke-width="1.4" fill="none"/>
<circle cx="141.04" cy="154.30" r="3.05" fill="none" stroke="#16b4ee" stroke-width="1.9"/>
<path d="M158.10 159.35V161.85M155.50 159.35h5.2M155.50 161.85h5.2" stroke="#16b4ee" stroke-width="1.4" fill="none"/>
<circle cx="158.10" cy="160.60" r="3.05" fill="none" stroke="#16b4ee" stroke-width="1.9"/>
<path d="M175.16 162.15V164.65M172.56 162.15h5.2M172.56 164.65h5.2" stroke="#16b4ee" stroke-width="1.4" fill="none"/>
<circle cx="175.16" cy="163.40" r="3.05" fill="none" stroke="#16b4ee" stroke-width="1.9"/>
<path d="M192.22 164.25V166.75M189.62 164.25h5.2M189.62 166.75h5.2" stroke="#16b4ee" stroke-width="1.4" fill="none"/>
<circle cx="192.22" cy="165.50" r="3.05" fill="none" stroke="#16b4ee" stroke-width="1.9"/>
<path d="M209.28 167.05V169.55M206.68 167.05h5.2M206.68 169.55h5.2" stroke="#16b4ee" stroke-width="1.4" fill="none"/>
<circle cx="209.28" cy="168.30" r="3.05" fill="none" stroke="#16b4ee" stroke-width="1.9"/>
<path d="M226.34 167.35V169.85M223.74 167.35h5.2M223.74 169.85h5.2" stroke="#16b4ee" stroke-width="1.4" fill="none"/>
<circle cx="226.34" cy="168.60" r="3.05" fill="none" stroke="#16b4ee" stroke-width="1.9"/>
<path d="M243.40 169.50V172.30M240.80 169.50h5.2M240.80 172.30h5.2" stroke="#16b4ee" stroke-width="1.4" fill="none"/>
<circle cx="243.40" cy="170.90" r="3.05" fill="none" stroke="#16b4ee" stroke-width="1.9"/>
<path d="M260.46 171.50V179.50M257.86 171.50h5.2M257.86 179.50h5.2" stroke="#16b4ee" stroke-width="1.4" fill="none"/>
<circle cx="260.46" cy="175.50" r="3.05" fill="none" stroke="#16b4ee" stroke-width="1.9"/>
<path d="M277.52 162.60V171.60M274.92 162.60h5.2M274.92 171.60h5.2" stroke="#16b4ee" stroke-width="1.4" fill="none"/>
<circle cx="277.52" cy="167.10" r="3.05" fill="none" stroke="#16b4ee" stroke-width="1.9"/>
<path d="M294.58 156.40V168.00M291.98 156.40h5.2M291.98 168.00h5.2" stroke="#16b4ee" stroke-width="1.4" fill="none"/>
<circle cx="294.58" cy="162.20" r="3.05" fill="none" stroke="#16b4ee" stroke-width="1.9"/>
<path d="M311.64 160.30V175.70M309.04 160.30h5.2M309.04 175.70h5.2" stroke="#16b4ee" stroke-width="1.4" fill="none"/>
<circle cx="311.64" cy="168.00" r="3.05" fill="none" stroke="#16b4ee" stroke-width="1.9"/>
<path d="M328.70 157.20V177.20M326.10 157.20h5.2M326.10 177.20h5.2" stroke="#16b4ee" stroke-width="1.4" fill="none"/>
<circle cx="328.70" cy="167.20" r="3.05" fill="none" stroke="#16b4ee" stroke-width="1.9"/>
<path d="M72.80 86.95V89.45M70.20 86.95h5.2M70.20 89.45h5.2" stroke="#f24a16" stroke-width="1.4" fill="none"/>
<circle cx="72.80" cy="88.20" r="3.05" fill="none" stroke="#f24a16" stroke-width="1.9"/>
<path d="M89.86 109.45V111.95M87.26 109.45h5.2M87.26 111.95h5.2" stroke="#f24a16" stroke-width="1.4" fill="none"/>
<circle cx="89.86" cy="110.70" r="3.05" fill="none" stroke="#f24a16" stroke-width="1.9"/>
<path d="M106.92 124.65V127.15M104.32 124.65h5.2M104.32 127.15h5.2" stroke="#f24a16" stroke-width="1.4" fill="none"/>
<circle cx="106.92" cy="125.90" r="3.05" fill="none" stroke="#f24a16" stroke-width="1.9"/>
<path d="M123.98 134.15V136.65M121.38 134.15h5.2M121.38 136.65h5.2" stroke="#f24a16" stroke-width="1.4" fill="none"/>
<circle cx="123.98" cy="135.40" r="3.05" fill="none" stroke="#f24a16" stroke-width="1.9"/>
<path d="M141.04 140.55V143.05M138.44 140.55h5.2M138.44 143.05h5.2" stroke="#f24a16" stroke-width="1.4" fill="none"/>
<circle cx="141.04" cy="141.80" r="3.05" fill="none" stroke="#f24a16" stroke-width="1.9"/>
<path d="M158.10 147.25V149.75M155.50 147.25h5.2M155.50 149.75h5.2" stroke="#f24a16" stroke-width="1.4" fill="none"/>
<circle cx="158.10" cy="148.50" r="3.05" fill="none" stroke="#f24a16" stroke-width="1.9"/>
<path d="M175.16 149.85V152.35M172.56 149.85h5.2M172.56 152.35h5.2" stroke="#f24a16" stroke-width="1.4" fill="none"/>
<circle cx="175.16" cy="151.10" r="3.05" fill="none" stroke="#f24a16" stroke-width="1.9"/>
<path d="M192.22 152.35V154.85M189.62 152.35h5.2M189.62 154.85h5.2" stroke="#f24a16" stroke-width="1.4" fill="none"/>
<circle cx="192.22" cy="153.60" r="3.05" fill="none" stroke="#f24a16" stroke-width="1.9"/>
<path d="M209.28 156.25V158.75M206.68 156.25h5.2M206.68 158.75h5.2" stroke="#f24a16" stroke-width="1.4" fill="none"/>
<circle cx="209.28" cy="157.50" r="3.05" fill="none" stroke="#f24a16" stroke-width="1.9"/>
<path d="M226.34 156.35V158.85M223.74 156.35h5.2M223.74 158.85h5.2" stroke="#f24a16" stroke-width="1.4" fill="none"/>
<circle cx="226.34" cy="157.60" r="3.05" fill="none" stroke="#f24a16" stroke-width="1.9"/>
<path d="M243.40 159.80V162.60M240.80 159.80h5.2M240.80 162.60h5.2" stroke="#f24a16" stroke-width="1.4" fill="none"/>
<circle cx="243.40" cy="161.20" r="3.05" fill="none" stroke="#f24a16" stroke-width="1.9"/>
<path d="M260.46 161.20V167.60M257.86 161.20h5.2M257.86 167.60h5.2" stroke="#f24a16" stroke-width="1.4" fill="none"/>
<circle cx="260.46" cy="164.40" r="3.05" fill="none" stroke="#f24a16" stroke-width="1.9"/>
<path d="M277.52 148.10V157.10M274.92 148.10h5.2M274.92 157.10h5.2" stroke="#f24a16" stroke-width="1.4" fill="none"/>
<circle cx="277.52" cy="152.60" r="3.05" fill="none" stroke="#f24a16" stroke-width="1.9"/>
<path d="M294.58 139.40V151.00M291.98 139.40h5.2M291.98 151.00h5.2" stroke="#f24a16" stroke-width="1.4" fill="none"/>
<circle cx="294.58" cy="145.20" r="3.05" fill="none" stroke="#f24a16" stroke-width="1.9"/>
<path d="M311.64 148.60V164.60M309.04 148.60h5.2M309.04 164.60h5.2" stroke="#f24a16" stroke-width="1.4" fill="none"/>
<circle cx="311.64" cy="156.60" r="3.05" fill="none" stroke="#f24a16" stroke-width="1.9"/>
<path d="M328.70 138.60V160.60M326.10 138.60h5.2M326.10 160.60h5.2" stroke="#f24a16" stroke-width="1.4" fill="none"/>
<circle cx="328.70" cy="149.60" r="3.05" fill="none" stroke="#f24a16" stroke-width="1.9"/>
<path d="M72.80 75.05V77.55M70.20 75.05h5.2M70.20 77.55h5.2" stroke="#16b4ee" stroke-width="1.4" fill="none"/>
<circle cx="72.80" cy="76.30" r="3.05" fill="none" stroke="#16b4ee" stroke-width="1.9"/>
<path d="M89.86 98.05V100.55M87.26 98.05h5.2M87.26 100.55h5.2" stroke="#16b4ee" stroke-width="1.4" fill="none"/>
<circle cx="89.86" cy="99.30" r="3.05" fill="none" stroke="#16b4ee" stroke-width="1.9"/>
<path d="M106.92 112.35V114.85M104.32 112.35h5.2M104.32 114.85h5.2" stroke="#16b4ee" stroke-width="1.4" fill="none"/>
<circle cx="106.92" cy="113.60" r="3.05" fill="none" stroke="#16b4ee" stroke-width="1.9"/>
<path d="M123.98 122.15V124.65M121.38 122.15h5.2M121.38 124.65h5.2" stroke="#16b4ee" stroke-width="1.4" fill="none"/>
<circle cx="123.98" cy="123.40" r="3.05" fill="none" stroke="#16b4ee" stroke-width="1.9"/>
<path d="M141.04 128.45V130.95M138.44 128.45h5.2M138.44 130.95h5.2" stroke="#16b4ee" stroke-width="1.4" fill="none"/>
<circle cx="141.04" cy="129.70" r="3.05" fill="none" stroke="#16b4ee" stroke-width="1.9"/>
<path d="M158.10 135.35V137.85M155.50 135.35h5.2M155.50 137.85h5.2" stroke="#16b4ee" stroke-width="1.4" fill="none"/>
<circle cx="158.10" cy="136.60" r="3.05" fill="none" stroke="#16b4ee" stroke-width="1.9"/>
<path d="M175.16 137.95V140.45M172.56 137.95h5.2M172.56 140.45h5.2" stroke="#16b4ee" stroke-width="1.4" fill="none"/>
<circle cx="175.16" cy="139.20" r="3.05" fill="none" stroke="#16b4ee" stroke-width="1.9"/>
<path d="M192.22 140.45V142.95M189.62 140.45h5.2M189.62 142.95h5.2" stroke="#16b4ee" stroke-width="1.4" fill="none"/>
<circle cx="192.22" cy="141.70" r="3.05" fill="none" stroke="#16b4ee" stroke-width="1.9"/>
<path d="M209.28 144.60V147.20M206.68 144.60h5.2M206.68 147.20h5.2" stroke="#16b4ee" stroke-width="1.4" fill="none"/>
<circle cx="209.28" cy="145.90" r="3.05" fill="none" stroke="#16b4ee" stroke-width="1.9"/>
<path d="M226.34 145.55V148.05M223.74 145.55h5.2M223.74 148.05h5.2" stroke="#16b4ee" stroke-width="1.4" fill="none"/>
<circle cx="226.34" cy="146.80" r="3.05" fill="none" stroke="#16b4ee" stroke-width="1.9"/>
<path d="M243.40 147.10V149.90M240.80 147.10h5.2M240.80 149.90h5.2" stroke="#16b4ee" stroke-width="1.4" fill="none"/>
<circle cx="243.40" cy="148.50" r="3.05" fill="none" stroke="#16b4ee" stroke-width="1.9"/>
<path d="M260.46 147.80V155.80M257.86 147.80h5.2M257.86 155.80h5.2" stroke="#16b4ee" stroke-width="1.4" fill="none"/>
<circle cx="260.46" cy="151.80" r="3.05" fill="none" stroke="#16b4ee" stroke-width="1.9"/>
<path d="M277.52 134.30V146.30M274.92 134.30h5.2M274.92 146.30h5.2" stroke="#16b4ee" stroke-width="1.4" fill="none"/>
<circle cx="277.52" cy="140.30" r="3.05" fill="none" stroke="#16b4ee" stroke-width="1.9"/>
<path d="M294.58 126.40V139.60M291.98 126.40h5.2M291.98 139.60h5.2" stroke="#16b4ee" stroke-width="1.4" fill="none"/>
<circle cx="294.58" cy="133.00" r="3.05" fill="none" stroke="#16b4ee" stroke-width="1.9"/>
<path d="M311.64 140.60V158.60M309.04 140.60h5.2M309.04 158.60h5.2" stroke="#16b4ee" stroke-width="1.4" fill="none"/>
<circle cx="311.64" cy="149.60" r="3.05" fill="none" stroke="#16b4ee" stroke-width="1.9"/>
<path d="M328.70 135.20V161.20M326.10 135.20h5.2M326.10 161.20h5.2" stroke="#16b4ee" stroke-width="1.4" fill="none"/>
<circle cx="328.70" cy="148.20" r="3.05" fill="none" stroke="#16b4ee" stroke-width="1.9"/>
<path d="M72.80 64.05V66.55M70.20 64.05h5.2M70.20 66.55h5.2" stroke="#f24a16" stroke-width="1.4" fill="none"/>
<circle cx="72.80" cy="65.30" r="3.05" fill="none" stroke="#f24a16" stroke-width="1.9"/>
<path d="M89.86 86.95V89.45M87.26 86.95h5.2M87.26 89.45h5.2" stroke="#f24a16" stroke-width="1.4" fill="none"/>
<circle cx="89.86" cy="88.20" r="3.05" fill="none" stroke="#f24a16" stroke-width="1.9"/>
<path d="M106.92 100.85V103.35M104.32 100.85h5.2M104.32 103.35h5.2" stroke="#f24a16" stroke-width="1.4" fill="none"/>
<circle cx="106.92" cy="102.10" r="3.05" fill="none" stroke="#f24a16" stroke-width="1.9"/>
<path d="M123.98 110.85V113.35M121.38 110.85h5.2M121.38 113.35h5.2" stroke="#f24a16" stroke-width="1.4" fill="none"/>
<circle cx="123.98" cy="112.10" r="3.05" fill="none" stroke="#f24a16" stroke-width="1.9"/>
<path d="M141.04 117.15V119.65M138.44 117.15h5.2M138.44 119.65h5.2" stroke="#f24a16" stroke-width="1.4" fill="none"/>
<circle cx="141.04" cy="118.40" r="3.05" fill="none" stroke="#f24a16" stroke-width="1.9"/>
<path d="M158.10 124.85V127.35M155.50 124.85h5.2M155.50 127.35h5.2" stroke="#f24a16" stroke-width="1.4" fill="none"/>
<circle cx="158.10" cy="126.10" r="3.05" fill="none" stroke="#f24a16" stroke-width="1.9"/>
<path d="M175.16 127.35V129.85M172.56 127.35h5.2M172.56 129.85h5.2" stroke="#f24a16" stroke-width="1.4" fill="none"/>
<circle cx="175.16" cy="128.60" r="3.05" fill="none" stroke="#f24a16" stroke-width="1.9"/>
<path d="M192.22 129.85V132.35M189.62 129.85h5.2M189.62 132.35h5.2" stroke="#f24a16" stroke-width="1.4" fill="none"/>
<circle cx="192.22" cy="131.10" r="3.05" fill="none" stroke="#f24a16" stroke-width="1.9"/>
<path d="M209.28 133.20V136.20M206.68 133.20h5.2M206.68 136.20h5.2" stroke="#f24a16" stroke-width="1.4" fill="none"/>
<circle cx="209.28" cy="134.70" r="3.05" fill="none" stroke="#f24a16" stroke-width="1.9"/>
<path d="M226.34 135.35V137.85M223.74 135.35h5.2M223.74 137.85h5.2" stroke="#f24a16" stroke-width="1.4" fill="none"/>
<circle cx="226.34" cy="136.60" r="3.05" fill="none" stroke="#f24a16" stroke-width="1.9"/>
<path d="M243.40 136.40V139.20M240.80 136.40h5.2M240.80 139.20h5.2" stroke="#f24a16" stroke-width="1.4" fill="none"/>
<circle cx="243.40" cy="137.80" r="3.05" fill="none" stroke="#f24a16" stroke-width="1.9"/>
<path d="M260.46 137.00V145.40M257.86 137.00h5.2M257.86 145.40h5.2" stroke="#f24a16" stroke-width="1.4" fill="none"/>
<circle cx="260.46" cy="141.20" r="3.05" fill="none" stroke="#f24a16" stroke-width="1.9"/>
<path d="M277.52 122.50V134.50M274.92 122.50h5.2M274.92 134.50h5.2" stroke="#f24a16" stroke-width="1.4" fill="none"/>
<circle cx="277.52" cy="128.50" r="3.05" fill="none" stroke="#f24a16" stroke-width="1.9"/>
<path d="M294.58 111.30V128.50M291.98 111.30h5.2M291.98 128.50h5.2" stroke="#f24a16" stroke-width="1.4" fill="none"/>
<circle cx="294.58" cy="119.90" r="3.05" fill="none" stroke="#f24a16" stroke-width="1.9"/>
<path d="M311.64 120.20V144.20M309.04 120.20h5.2M309.04 144.20h5.2" stroke="#f24a16" stroke-width="1.4" fill="none"/>
<circle cx="311.64" cy="132.20" r="3.05" fill="none" stroke="#f24a16" stroke-width="1.9"/>
<path d="M328.70 115.00V149.00M326.10 115.00h5.2M326.10 149.00h5.2" stroke="#f24a16" stroke-width="1.4" fill="none"/>
<circle cx="328.70" cy="132.00" r="3.05" fill="none" stroke="#f24a16" stroke-width="1.9"/>
<path d="M72.80 41.55V44.05M70.20 41.55h5.2M70.20 44.05h5.2" stroke="#16b4ee" stroke-width="1.4" fill="none"/>
<circle cx="72.80" cy="42.80" r="3.05" fill="none" stroke="#16b4ee" stroke-width="1.9"/>
<path d="M89.86 64.45V66.95M87.26 64.45h5.2M87.26 66.95h5.2" stroke="#16b4ee" stroke-width="1.4" fill="none"/>
<circle cx="89.86" cy="65.70" r="3.05" fill="none" stroke="#16b4ee" stroke-width="1.9"/>
<path d="M106.92 78.85V81.35M104.32 78.85h5.2M104.32 81.35h5.2" stroke="#16b4ee" stroke-width="1.4" fill="none"/>
<circle cx="106.92" cy="80.10" r="3.05" fill="none" stroke="#16b4ee" stroke-width="1.9"/>
<path d="M123.98 88.45V90.95M121.38 88.45h5.2M121.38 90.95h5.2" stroke="#16b4ee" stroke-width="1.4" fill="none"/>
<circle cx="123.98" cy="89.70" r="3.05" fill="none" stroke="#16b4ee" stroke-width="1.9"/>
<path d="M141.04 95.55V98.05M138.44 95.55h5.2M138.44 98.05h5.2" stroke="#16b4ee" stroke-width="1.4" fill="none"/>
<circle cx="141.04" cy="96.80" r="3.05" fill="none" stroke="#16b4ee" stroke-width="1.9"/>
<path d="M158.10 102.35V104.85M155.50 102.35h5.2M155.50 104.85h5.2" stroke="#16b4ee" stroke-width="1.4" fill="none"/>
<circle cx="158.10" cy="103.60" r="3.05" fill="none" stroke="#16b4ee" stroke-width="1.9"/>
<path d="M175.16 104.45V106.95M172.56 104.45h5.2M172.56 106.95h5.2" stroke="#16b4ee" stroke-width="1.4" fill="none"/>
<circle cx="175.16" cy="105.70" r="3.05" fill="none" stroke="#16b4ee" stroke-width="1.9"/>
<path d="M192.22 108.55V111.05M189.62 108.55h5.2M189.62 111.05h5.2" stroke="#16b4ee" stroke-width="1.4" fill="none"/>
<circle cx="192.22" cy="109.80" r="3.05" fill="none" stroke="#16b4ee" stroke-width="1.9"/>
<path d="M209.28 112.20V115.60M206.68 112.20h5.2M206.68 115.60h5.2" stroke="#16b4ee" stroke-width="1.4" fill="none"/>
<circle cx="209.28" cy="113.90" r="3.05" fill="none" stroke="#16b4ee" stroke-width="1.9"/>
<path d="M226.34 114.10V119.30M223.74 114.10h5.2M223.74 119.30h5.2" stroke="#16b4ee" stroke-width="1.4" fill="none"/>
<circle cx="226.34" cy="116.70" r="3.05" fill="none" stroke="#16b4ee" stroke-width="1.9"/>
<path d="M243.40 109.30V117.70M240.80 109.30h5.2M240.80 117.70h5.2" stroke="#16b4ee" stroke-width="1.4" fill="none"/>
<circle cx="243.40" cy="113.50" r="3.05" fill="none" stroke="#16b4ee" stroke-width="1.9"/>
<path d="M260.46 103.00V113.00M257.86 103.00h5.2M257.86 113.00h5.2" stroke="#16b4ee" stroke-width="1.4" fill="none"/>
<circle cx="260.46" cy="108.00" r="3.05" fill="none" stroke="#16b4ee" stroke-width="1.9"/>
<path d="M277.52 86.20V103.40M274.92 86.20h5.2M274.92 103.40h5.2" stroke="#16b4ee" stroke-width="1.4" fill="none"/>
<circle cx="277.52" cy="94.80" r="3.05" fill="none" stroke="#16b4ee" stroke-width="1.9"/>
<path d="M294.58 77.70V102.70M291.98 77.70h5.2M291.98 102.70h5.2" stroke="#16b4ee" stroke-width="1.4" fill="none"/>
<circle cx="294.58" cy="90.20" r="3.05" fill="none" stroke="#16b4ee" stroke-width="1.9"/>
<path d="M311.64 99.70V131.70M309.04 99.70h5.2M309.04 131.70h5.2" stroke="#16b4ee" stroke-width="1.4" fill="none"/>
<circle cx="311.64" cy="115.70" r="3.05" fill="none" stroke="#16b4ee" stroke-width="1.9"/>
<path d="M328.70 106.50V154.50M326.10 106.50h5.2M326.10 154.50h5.2" stroke="#16b4ee" stroke-width="1.4" fill="none"/>
<circle cx="328.70" cy="130.50" r="3.05" fill="none" stroke="#16b4ee" stroke-width="1.9"/>
<path d="M72.80 20.45V22.95M70.20 20.45h5.2M70.20 22.95h5.2" stroke="#f24a16" stroke-width="1.4" fill="none"/>
<circle cx="72.80" cy="21.70" r="3.05" fill="none" stroke="#f24a16" stroke-width="1.9"/>
<path d="M89.86 43.65V46.15M87.26 43.65h5.2M87.26 46.15h5.2" stroke="#f24a16" stroke-width="1.4" fill="none"/>
<circle cx="89.86" cy="44.90" r="3.05" fill="none" stroke="#f24a16" stroke-width="1.9"/>
<path d="M106.92 58.15V60.65M104.32 58.15h5.2M104.32 60.65h5.2" stroke="#f24a16" stroke-width="1.4" fill="none"/>
<circle cx="106.92" cy="59.40" r="3.05" fill="none" stroke="#f24a16" stroke-width="1.9"/>
<path d="M123.98 67.85V70.35M121.38 67.85h5.2M121.38 70.35h5.2" stroke="#f24a16" stroke-width="1.4" fill="none"/>
<circle cx="123.98" cy="69.10" r="3.05" fill="none" stroke="#f24a16" stroke-width="1.9"/>
<path d="M141.04 74.35V76.85M138.44 74.35h5.2M138.44 76.85h5.2" stroke="#f24a16" stroke-width="1.4" fill="none"/>
<circle cx="141.04" cy="75.60" r="3.05" fill="none" stroke="#f24a16" stroke-width="1.9"/>
<path d="M158.10 81.85V84.35M155.50 81.85h5.2M155.50 84.35h5.2" stroke="#f24a16" stroke-width="1.4" fill="none"/>
<circle cx="158.10" cy="83.10" r="3.05" fill="none" stroke="#f24a16" stroke-width="1.9"/>
<path d="M175.16 83.85V86.35M172.56 83.85h5.2M172.56 86.35h5.2" stroke="#f24a16" stroke-width="1.4" fill="none"/>
<circle cx="175.16" cy="85.10" r="3.05" fill="none" stroke="#f24a16" stroke-width="1.9"/>
<path d="M192.22 86.60V89.40M189.62 86.60h5.2M189.62 89.40h5.2" stroke="#f24a16" stroke-width="1.4" fill="none"/>
<circle cx="192.22" cy="88.00" r="3.05" fill="none" stroke="#f24a16" stroke-width="1.9"/>
<path d="M209.28 91.00V95.00M206.68 91.00h5.2M206.68 95.00h5.2" stroke="#f24a16" stroke-width="1.4" fill="none"/>
<circle cx="209.28" cy="93.00" r="3.05" fill="none" stroke="#f24a16" stroke-width="1.9"/>
<path d="M226.34 92.90V99.30M223.74 92.90h5.2M223.74 99.30h5.2" stroke="#f24a16" stroke-width="1.4" fill="none"/>
<circle cx="226.34" cy="96.10" r="3.05" fill="none" stroke="#f24a16" stroke-width="1.9"/>
<path d="M243.40 93.80V104.80M240.80 93.80h5.2M240.80 104.80h5.2" stroke="#f24a16" stroke-width="1.4" fill="none"/>
<circle cx="243.40" cy="99.30" r="3.05" fill="none" stroke="#f24a16" stroke-width="1.9"/>
<path d="M260.46 89.00V103.80M257.86 89.00h5.2M257.86 103.80h5.2" stroke="#f24a16" stroke-width="1.4" fill="none"/>
<circle cx="260.46" cy="96.40" r="3.05" fill="none" stroke="#f24a16" stroke-width="1.9"/>
<path d="M277.52 61.90V85.50M274.92 61.90h5.2M274.92 85.50h5.2" stroke="#f24a16" stroke-width="1.4" fill="none"/>
<circle cx="277.52" cy="73.70" r="3.05" fill="none" stroke="#f24a16" stroke-width="1.9"/>
<path d="M294.58 36.20V68.20M291.98 36.20h5.2M291.98 68.20h5.2" stroke="#f24a16" stroke-width="1.4" fill="none"/>
<circle cx="294.58" cy="52.20" r="3.05" fill="none" stroke="#f24a16" stroke-width="1.9"/>
<path d="M311.64 81.50V128.10M309.04 81.50h5.2M309.04 128.10h5.2" stroke="#f24a16" stroke-width="1.4" fill="none"/>
<circle cx="311.64" cy="104.80" r="3.05" fill="none" stroke="#f24a16" stroke-width="1.9"/>
<path d="M328.70 73.80V140.60M326.10 73.80h5.2M326.10 140.60h5.2" stroke="#f24a16" stroke-width="1.4" fill="none"/>
<circle cx="328.70" cy="107.20" r="3.05" fill="none" stroke="#f24a16" stroke-width="1.9"/>
<path d="M345.76 190.00V218.40M343.16 190.00h5.2" stroke="#f24a16" stroke-width="1.4" fill="none"/>
<circle cx="345.76" cy="203.70" r="3.2" fill="none" stroke="#f24a16" stroke-width="1.55"/>
<path d="M345.76 170.30V197.30M343.16 170.30h5.2M343.16 197.30h5.2" stroke="#16b4ee" stroke-width="1.4" fill="none"/>
<circle cx="345.76" cy="183.80" r="3.2" fill="none" stroke="#16b4ee" stroke-width="1.55"/>
<path d="M345.76 150.40V186.80M343.16 150.40h5.2M343.16 186.80h5.2" stroke="#f24a16" stroke-width="1.4" fill="none"/>
<circle cx="345.76" cy="168.60" r="3.2" fill="none" stroke="#f24a16" stroke-width="1.55"/>
<circle cx="345.76" cy="152.60" r="3.2" fill="none" stroke="#f24a16" stroke-width="1.55"/>
<path d="M343.16 150.10h5.2" stroke="#16b4ee" stroke-width="1.4"/>
<path d="M345.76 138.60V164.00M343.16 138.60h5.2" stroke="#16b4ee" stroke-width="1.4" fill="none"/>
<circle cx="345.76" cy="153.70" r="3.2" fill="none" stroke="#16b4ee" stroke-width="1.55"/>
<path d="M345.76 99.00V164.00M343.16 99.00h5.2" stroke="#16b4ee" stroke-width="1.4" fill="none"/>
<circle cx="345.76" cy="130.00" r="3.2" fill="none" stroke="#16b4ee" stroke-width="1.55"/>
<circle cx="345.76" cy="107.30" r="3.2" fill="none" stroke="#f24a16" stroke-width="1.55"/>
<path d="M345.76 32.80V130.30M343.16 32.80h5.2M343.16 130.30h5.2" stroke="#f24a16" stroke-width="1.4" fill="none"/>
<circle cx="345.76" cy="81.50" r="3.2" fill="none" stroke="#f24a16" stroke-width="1.55"/>
<path d="M362.82 169.30V213.30M360.22 169.30h5.2M360.22 213.30h5.2" stroke="#f24a16" stroke-width="1.4" fill="none"/>
<path d="M362.82 167.00V203.10M360.22 167.00h5.2M360.22 203.10h5.2" stroke="#16b4ee" stroke-width="1.4" fill="none"/>
<circle cx="362.82" cy="185.10" r="3.2" fill="none" stroke="#16b4ee" stroke-width="1.55"/>
<circle cx="362.82" cy="191.30" r="3.2" fill="none" stroke="#f24a16" stroke-width="1.55"/>
<path d="M362.82 172.00V179.00" stroke="#f24a16" stroke-width="1.4" fill="none"/>
<circle cx="362.82" cy="175.60" r="3.2" fill="none" stroke="#f24a16" stroke-width="1.55"/>
<circle cx="362.82" cy="166.70" r="3.2" fill="none" stroke="#16b4ee" stroke-width="1.55"/>
<path d="M362.82 113.70V169.00M360.22 113.70h5.2" stroke="#f24a16" stroke-width="1.4" fill="none"/>
<circle cx="362.82" cy="142.40" r="3.2" fill="none" stroke="#f24a16" stroke-width="1.55"/>
<circle cx="362.82" cy="136.70" r="3.2" fill="none" stroke="#16b4ee" stroke-width="1.55"/>
<path d="M362.82 57.60V155.80M360.22 57.60h5.2M360.22 155.80h5.2" stroke="#16b4ee" stroke-width="1.4" fill="none"/>
<path d="M362.82 68.30V134.70M360.22 68.30h5.2M360.22 134.70h5.2" stroke="#f24a16" stroke-width="1.4" fill="none"/>
<circle cx="362.82" cy="101.50" r="3.2" fill="none" stroke="#f24a16" stroke-width="1.55"/>
<circle cx="362.82" cy="107.30" r="3.2" fill="none" stroke="#16b4ee" stroke-width="1.55"/>
<path d="M360.22 158.70h5.2" stroke="#f24a16" stroke-width="1.4"/>
<path d="M362.82 20.50V162.20M360.22 20.50h5.2M360.22 162.20h5.2" stroke="#f24a16" stroke-width="1.4" fill="none"/>
<circle cx="362.82" cy="91.50" r="3.2" fill="none" stroke="#f24a16" stroke-width="1.55"/>
<path d="M379.88 191.30V218.40M377.28 191.30h5.2" stroke="#16b4ee" stroke-width="1.4" fill="none"/>
<circle cx="379.88" cy="214.20" r="3.2" fill="none" stroke="#16b4ee" stroke-width="1.55"/>
<path d="M379.88 185.00V218.40" stroke="#f24a16" stroke-width="1.4" fill="none"/>
<circle cx="379.88" cy="200.50" r="3.2" fill="none" stroke="#f24a16" stroke-width="1.55"/>
<path d="M379.88 155.40V204.00M377.28 155.40h5.2" stroke="#16b4ee" stroke-width="1.4" fill="none"/>
<circle cx="379.88" cy="179.90" r="3.2" fill="none" stroke="#16b4ee" stroke-width="1.55"/>
<path d="M379.88 168.00V202.00" stroke="#f24a16" stroke-width="1.4" fill="none"/>
<circle cx="379.88" cy="185.10" r="3.2" fill="none" stroke="#f24a16" stroke-width="1.55"/>
<path d="M377.28 191.30h5.2" stroke="#16b4ee" stroke-width="1.4"/>
<path d="M379.88 135.10V212.00M377.28 135.10h5.2" stroke="#f24a16" stroke-width="1.4" fill="none"/>
<circle cx="379.88" cy="173.70" r="3.2" fill="none" stroke="#f24a16" stroke-width="1.55"/>
<path d="M377.28 143.70h5.2" stroke="#16b4ee" stroke-width="1.4"/>
<path d="M377.28 149.70h5.2" stroke="#16b4ee" stroke-width="1.4"/>
<path d="M379.88 92.60V190.00M377.28 92.60h5.2" stroke="#f24a16" stroke-width="1.4" fill="none"/>
<path d="M379.88 72.80V168.20M377.28 72.80h5.2M377.28 168.20h5.2" stroke="#f24a16" stroke-width="1.4" fill="none"/>
<circle cx="379.88" cy="120.50" r="3.2" fill="none" stroke="#f24a16" stroke-width="1.55"/>
</g>
<path d="M64.7 1.39h2.6 M388.9 1.39h-2.6 M64.7 12.25h4.4 M388.9 12.25h-4.4 M64.7 23.11h2.6 M388.9 23.11h-2.6 M64.7 33.97h2.6 M388.9 33.97h-2.6 M64.7 44.83h2.6 M388.9 44.83h-2.6 M64.7 55.69h2.6 M388.9 55.69h-2.6 M64.7 66.55h4.4 M388.9 66.55h-4.4 M64.7 77.41h2.6 M388.9 77.41h-2.6 M64.7 88.27h2.6 M388.9 88.27h-2.6 M64.7 99.13h2.6 M388.9 99.13h-2.6 M64.7 109.99h2.6 M388.9 109.99h-2.6 M64.7 120.85h4.4 M388.9 120.85h-4.4 M64.7 131.71h2.6 M388.9 131.71h-2.6 M64.7 142.57h2.6 M388.9 142.57h-2.6 M64.7 153.43h2.6 M388.9 153.43h-2.6 M64.7 164.29h2.6 M388.9 164.29h-2.6 M64.7 175.15h4.4 M388.9 175.15h-4.4 M64.7 186.01h2.6 M388.9 186.01h-2.6 M64.7 196.87h2.6 M388.9 196.87h-2.6 M64.7 207.73h2.6 M388.9 207.73h-2.6 M72.80 1.2v2.2 M72.80 218.4v-2.2 M89.86 1.2v2.2 M89.86 218.4v-2.2 M106.92 1.2v2.2 M106.92 218.4v-2.2 M123.98 1.2v2.2 M123.98 218.4v-2.2 M141.04 1.2v2.2 M141.04 218.4v-2.2 M158.10 1.2v2.2 M158.10 218.4v-2.2 M175.16 1.2v2.2 M175.16 218.4v-2.2 M192.22 1.2v2.2 M192.22 218.4v-2.2 M209.28 1.2v2.2 M209.28 218.4v-2.2 M226.34 1.2v2.2 M226.34 218.4v-2.2 M243.40 1.2v2.2 M243.40 218.4v-2.2 M260.46 1.2v2.2 M260.46 218.4v-2.2 M277.52 1.2v2.2 M277.52 218.4v-2.2 M294.58 1.2v2.2 M294.58 218.4v-2.2 M311.64 1.2v2.2 M311.64 218.4v-2.2 M328.70 1.2v2.2 M328.70 218.4v-2.2 M345.76 1.2v2.2 M345.76 218.4v-2.2 M362.82 1.2v2.2 M362.82 218.4v-2.2 M379.88 1.2v2.2 M379.88 218.4v-2.2" stroke="#000" stroke-width="0.95" fill="none"/>
<rect x="64.7" y="1.2" width="324.2" height="217.2" fill="none" stroke="#000" stroke-width="1"/>
</svg>
</body></html>
